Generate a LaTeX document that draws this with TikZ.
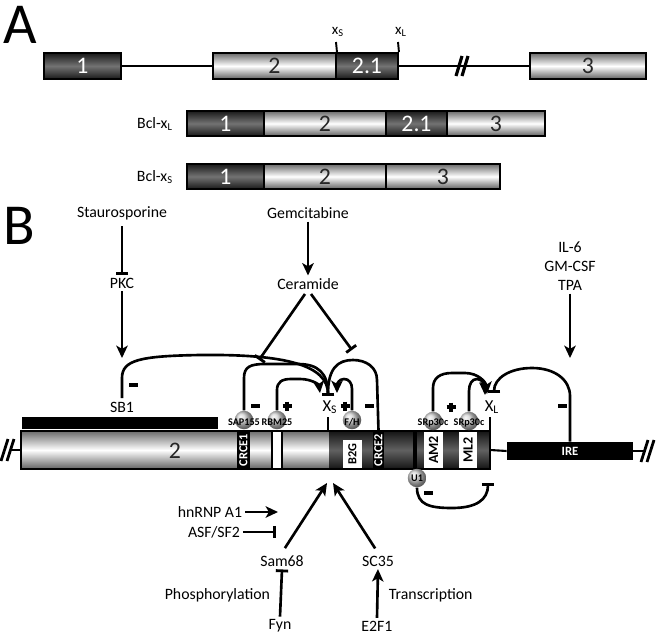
\documentclass[tikz,border=0pt]{standalone}
\usepackage{fontspec}
\setmainfont{Carlito}
\usetikzlibrary{arrows.meta,fit,calc}
\newcommand{\ex}[6]{\node[fit={(#2,#3) (#4,#5)}, inner sep=0pt, #6] (#1) {};}
\newcommand{\plusmark}[2]{\draw[line width=2.3pt] (#1,#2) ++(-4.5,0) -- ++(9,0) (#1,#2) ++(0,-4.5) -- ++(0,9);}
\newcommand{\minusmark}[2]{\fill (#1,#2) ++(-4.5,-1.6) rectangle ++(9,3.2);}
\tikzset{
 exline/.style={draw=black, line width=1.1pt},
 lightex/.style={exline, top color=black!58, bottom color=black!62, middle color=white},
 darkex/.style={exline, top color=black!90, bottom color=black!90, middle color=black!55},
 darkbar/.style={top color=black!92, bottom color=black!92, middle color=black!62},
 lightbar/.style={top color=black!58, bottom color=black!62, middle color=white},
 lbl/.style={font=\fontsize{9}{11}\selectfont, inner sep=1.5pt},
 num/.style={font=\fontsize{13.5}{13.5}\selectfont, inner sep=0pt},
 big/.style={font=\fontsize{33}{33}\selectfont, inner sep=0pt},
 con/.style={line width=1.5pt},
 act/.style={con, -{Stealth[length=7pt,width=6.5pt,inset=1.8pt]}},
 inh/.style={con, -{Bar[width=7pt,line width=1.6pt]}},
 sph/.style={circle, inner sep=0pt, minimum size=0.37cm, ball color=black!18},
 sphtxt/.style={font=\fontsize{5.8}{5.8}\selectfont\bfseries, text=black, inner sep=0pt},
 vtxtw/.style={rotate=90, font=\fontsize{7}{7}\selectfont\bfseries, text=white, inner sep=0pt},
 vtxtb/.style={rotate=90, font=\fontsize{8}{8}\selectfont\bfseries, text=black, inner sep=0pt},
 xlab/.style={font=\fontsize{9.5}{9.5}\selectfont, inner sep=0pt},
}
\begin{document}
\begin{tikzpicture}[x=0.02cm, y=-0.02cm]
\useasboundingbox (0,0) rectangle (656,636);
% ================= Panel A =================
\node[big, anchor=base] (A) at (20,43) {A};
\ex{a1}{44}{53}{121}{79}{darkex}
\ex{a2}{213}{53}{336}{79}{lightex}
\ex{a21}{336}{53}{398}{79}{darkex}
\ex{a3}{530}{53}{646}{79}{lightex}
\node[num, text=white] at (a1) {1};
\node[num, text=black!85] at (a2) {2};
\node[num, text=white] at (a21) {2.1};
\node[num, text=black!85] at (a3) {3};
\draw[line width=1.1pt] (a1.east) -- (a2.west);
\draw[line width=1.1pt] (a21.east) -- (a3.west);
\draw[line width=1.8pt] (456,76) -- (462,56) (462,76) -- (468,56);
\coordinate (xsA) at (336,42);
\coordinate (xlA) at (398,42);
\draw[line width=1.1pt] (a2.north east) -- (xsA);
\draw[line width=1.1pt] (a21.north east) -- (xlA);
\node[font=\fontsize{8.5}{8.5}\selectfont, inner sep=0pt] at (338,32) {x\textsubscript{S}};
\node[font=\fontsize{8.5}{8.5}\selectfont, inner sep=0pt] at (401,32) {x\textsubscript{L}};
% Bcl-xL
\node[lbl] (bxl) at (155,124) {Bcl-x\textsubscript{L}};
\ex{l1}{187}{111}{264}{136}{darkex}
\ex{l2}{264}{111}{386}{136}{lightex}
\ex{l21}{386}{111}{447}{136}{darkex}
\ex{l3}{447}{111}{545}{136}{lightex}
\node[num, text=white] at (l1) {1};
\node[num, text=black!85] at (l2) {2};
\node[num, text=white] at (l21) {2.1};
\node[num, text=black!85] at (l3) {3};
% Bcl-xS
\node[lbl] (bxs) at (155,177) {Bcl-x\textsubscript{S}};
\ex{s1}{187}{164}{264}{189}{darkex}
\ex{s2}{264}{164}{386}{189}{lightex}
\ex{s3}{386}{164}{500}{189}{lightex}
\node[num, text=white] at (s1) {1};
\node[num, text=black!85] at (s2) {2};
\node[num, text=black!85] at (s3) {3};
% ================= Panel B =================
\node[big, anchor=base] (B) at (19,244) {B};
\node[lbl] (stauro) at (122,213) {Staurosporine};
\node[lbl] (pkc) at (122,283) {PKC};
\node[lbl] (gem) at (308,213) {Gemcitabine};
\node[lbl] (cer) at (308,284) {Ceramide};
\node[lbl, align=center] (cyt) at (570,266) {IL-6\\GM-CSF\\TPA};
\coordinate (pkctip) at (122,358);
\coordinate (ceraL) at (259,360);
\coordinate (ceraR) at (352,350);
\coordinate (cerA) at (305,294);
\coordinate (cerB) at (311,294);
\coordinate (tpatip) at (570,358);
\draw[inh, shorten <=2pt] (stauro.south) -- (pkc.north);
\draw[act] (pkc.south) -- (pkctip);
\draw[act] (gem.south) -- (cer.north);
\draw[inh] (cerA) -- (ceraL);
\draw[inh] (cerB) -- (ceraR);
\draw[act] (cyt.south) -- (tpatip);
% key points
\coordinate (XS) at (328,396);
\coordinate (XL) at (487,394);
% SB1
\fill[black] (22,417) rectangle (218,429);
\node[lbl] (sb1) at (122,407) {SB1};
\coordinate (sb1s) at (122,398);
\draw[inh] (sb1s) -- (122,378) .. controls (122,360) and (140,356) .. (200,355) .. controls (285,354) and (328,365) .. (XS);
\minusmark{133}{385}
% main bar
\ex{mbL}{21}{431}{329}{469}{lightbar}
\ex{mbD}{329}{431}{490}{469}{darkbar}
\ex{crce1}{237}{431}{250}{469}{fill=black}
\ex{rbmbox}{272}{431}{282}{469}{fill=white, draw=black, line width=0.8pt}
\ex{b2g}{343}{440}{362}{468}{fill=white}
\ex{crce2}{373}{431}{384}{469}{fill=black}
\ex{strip}{413}{431}{417}{469}{fill=black}
\ex{am2}{424}{432}{443}{468}{fill=white}
\ex{ml2}{459}{432}{477}{468}{fill=white}
\draw[line width=1.2pt] (mbL.north west) rectangle (mbD.south east);
\node[num, text=black!85] at (175,451) {2};
\node[vtxtw] at (crce1) {CRCE1};
\node[vtxtw] at (crce2) {CRCE2};
\node[vtxtb, font=\fontsize{7}{7}\selectfont\bfseries] at (b2g) {B2G};
\node[vtxtb] at (am2) {AM2};
\node[vtxtb] at (ml2) {ML2};
% IRE
\ex{ire}{507}{442}{633}{460}{fill=black}
\node[font=\fontsize{7.2}{7.2}\selectfont\bfseries, text=white] at (ire) {IRE};
\draw[line width=1.2pt] (mbD.east) -- (ire.west);
\coordinate (rend) at (646,451);
\draw[line width=1.2pt] (ire.east) -- (rend);
\draw[line width=1.6pt] (641,462) -- (648,440) (647,462) -- (654,440);
\coordinate (lend) at (10,450);
\draw[line width=1.2pt] (lend) -- (mbL.west);
\draw[line width=1.6pt] (1,461) -- (8,439) (7,461) -- (14,439);
% X_S, X_L labels and ticks
\node[xlab] (xslab) at (330,407) {X\textsubscript{S}};
\node[xlab] (xllab) at (492,407) {X\textsubscript{L}};
\draw[line width=1.2pt] (328,417) -- (328,431);
\draw[line width=1.2pt] (490,417) -- (490,431);
% spheres
\node[sph] (sap) at (244,420) {};
\node[sph] (rbm) at (277,420) {};
\node[sph] (fh) at (352,420) {};
\node[sph] (sr1) at (433,421) {};
\node[sph] (sr2) at (469,421) {};
\node[sph] (u1) at (417,478) {};
\node[sphtxt] at ($(sap)+(0,2)$) {SAP155};
\node[sphtxt] at ($(rbm)+(0,2)$) {RBM25};
\node[sphtxt] at ($(fh)+(0,2)$) {F/H};
\node[sphtxt] at ($(sr1)+(0,2)$) {SRp30c};
\node[sphtxt] at ($(sr2)+(0,2)$) {SRp30c};
\node[sphtxt] at (u1) {U1};
% regulatory arcs at X_S
\draw[inh] (sap.north) -- (244,378) .. controls (244,367) and (250,364) .. (265,364) -- (298,364) .. controls (318,364) and (328,373) .. (XS);
\draw[act] (rbm.north) -- (277,390) .. controls (277,382) and (282,379) .. (291,379) -- (300,379) .. controls (312,379) and (319,385) .. (320,393);
\draw[act] (fh.north) -- (352,389) .. controls (352,383) and (349,379) .. (344,379) .. controls (339,379) and (337,384) .. (337,393);
\draw[inh] (crce2.north) -- (377,380) .. controls (377,367) and (366,360) .. (353,360) .. controls (338,360) and (328,368) .. (XS);
\minusmark{255}{406}
\plusmark{287}{406}
\plusmark{345}{406}
\minusmark{369}{406}
% X_L arcs
\draw[act] (sr1.north) -- (433,388) .. controls (433,378) and (440,373) .. (452,373) -- (465,373) .. controls (478,373) and (486,382) .. (XL);
\draw[act] (sr2.north) -- (469,391) .. controls (469,384) and (472,379) .. (477,379) .. controls (483,379) and (485,386) .. (485,395);
\draw[inh] (ire.north -| 570,0) -- (570,396) .. controls (570,380) and (555,368) .. (532,368) .. controls (510,368) and (494,378) .. (494,393);
\plusmark{451}{407}
\minusmark{562}{406}
% U1 loop
\draw[inh] (u1.south) .. controls (417,505) and (430,508) .. (452,508) .. controls (476,508) and (488,500) .. (488,483);
\minusmark{428}{493}
% bottom factors
\node[lbl] (hn) at (210,512) {hnRNP A1};
\node[lbl] (asf) at (214,532) {ASF/SF2};
\coordinate (hntip) at (278,512);
\coordinate (asftip) at (276,532);
\draw[act] (hn.east) -- (hntip);
\draw[inh] (asf.east) -- (asftip);
\node[lbl] (sam) at (282,561) {Sam68};
\node[lbl] (sc) at (378,561) {SC35};
\coordinate (tipA) at (327,483);
\coordinate (tipB) at (333,483);
\draw[act, shorten <=3pt] (sam.north) -- (tipA);
\draw[act, shorten <=3pt] (sc.north) -- (tipB);
\node[lbl] (fyn) at (280,626) {Fyn};
\node[lbl] (e2f1) at (377,626) {E2F1};
\draw[inh] (fyn.north) -- (sam.south);
\draw[act] (e2f1.north) -- (sc.south);
\node[lbl, anchor=east] (phos) at (273,595) {Phosphorylation};
\node[lbl, anchor=west] (trans) at (386,595) {Transcription};
\end{tikzpicture}
\end{document}
